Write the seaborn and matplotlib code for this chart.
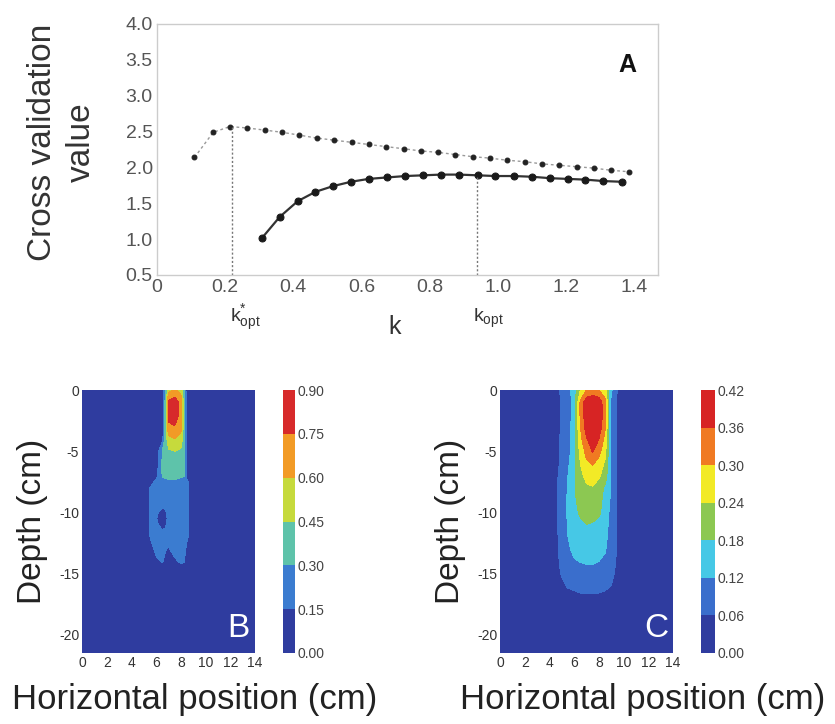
import numpy as np
import pandas as pd
import matplotlib
matplotlib.use("Agg")
import matplotlib.pyplot as plt
from matplotlib.colors import ListedColormap, BoundaryNorm
import seaborn as sns

# ---------------- data: panel A ----------------
k_upper = [0.110, 0.165, 0.214, 0.265, 0.317, 0.367, 0.418, 0.468, 0.520, 0.571,
           0.621, 0.673, 0.724, 0.774, 0.825, 0.875, 0.926, 0.976, 1.028, 1.079,
           1.129, 1.180, 1.232, 1.282, 1.333, 1.384]
cv_upper = [2.14, 2.49, 2.57, 2.55, 2.52, 2.49, 2.45, 2.41, 2.38, 2.35,
            2.32, 2.29, 2.26, 2.23, 2.21, 2.18, 2.15, 2.13, 2.10, 2.08,
            2.05, 2.03, 2.01, 1.99, 1.96, 1.94]
k_lower = [0.307, 0.360, 0.413, 0.465, 0.517, 0.569, 0.621, 0.674, 0.729, 0.781,
           0.833, 0.886, 0.941, 0.993, 1.047, 1.100, 1.153, 1.205, 1.257, 1.310, 1.363]
cv_lower = [1.01, 1.31, 1.53, 1.66, 1.74, 1.80, 1.84, 1.86, 1.88, 1.89,
            1.90, 1.90, 1.89, 1.88, 1.88, 1.87, 1.85, 1.84, 1.83, 1.81, 1.80]
k_opt = [0.22, 0.94]
k_opt_cv = [2.57, 1.90]
xticks_A = [0, 0.2, 0.4, 0.6, 0.8, 1.0, 1.2, 1.4]
yticks_A = [0.5, 1.0, 1.5, 2.0, 2.5, 3.0, 3.5, 4.0]

# ---------------- data: panel B (values read on a coarse grid) ----------------
xB = [0, 5, 5.5, 6, 6.5, 6.75, 7, 7.5, 8, 8.25, 8.5, 9, 14]
yB = [0, -1, -2, -3, -4, -5, -6, -7, -7.5, -8, -9, -10, -10.5, -11, -12, -13, -14, -15, -21.5]
zB = [
    [0.02, 0.02, 0.03, 0.04, 0.06, 0.25, 0.55, 0.62, 0.55, 0.30, 0.07, 0.03, 0.02],
    [0.02, 0.02, 0.03, 0.04, 0.05, 0.35, 0.78, 0.84, 0.70, 0.40, 0.08, 0.03, 0.02],
    [0.02, 0.02, 0.03, 0.04, 0.05, 0.35, 0.80, 0.86, 0.70, 0.40, 0.08, 0.03, 0.02],
    [0.02, 0.02, 0.03, 0.04, 0.05, 0.35, 0.72, 0.74, 0.65, 0.38, 0.08, 0.03, 0.02],
    [0.02, 0.02, 0.03, 0.04, 0.10, 0.36, 0.55, 0.60, 0.55, 0.36, 0.08, 0.03, 0.02],
    [0.02, 0.02, 0.03, 0.05, 0.30, 0.37, 0.43, 0.45, 0.42, 0.33, 0.08, 0.03, 0.02],
    [0.02, 0.02, 0.03, 0.06, 0.32, 0.36, 0.38, 0.40, 0.38, 0.33, 0.09, 0.03, 0.02],
    [0.02, 0.02, 0.04, 0.10, 0.31, 0.33, 0.33, 0.34, 0.32, 0.31, 0.10, 0.03, 0.02],
    [0.02, 0.03, 0.10, 0.18, 0.25, 0.27, 0.28, 0.28, 0.26, 0.24, 0.17, 0.04, 0.02],
    [0.02, 0.04, 0.15, 0.20, 0.22, 0.23, 0.24, 0.24, 0.23, 0.22, 0.18, 0.05, 0.02],
    [0.02, 0.04, 0.16, 0.21, 0.22, 0.23, 0.23, 0.24, 0.23, 0.22, 0.18, 0.05, 0.02],
    [0.02, 0.04, 0.16, 0.17, 0.11, 0.13, 0.22, 0.23, 0.22, 0.21, 0.18, 0.05, 0.02],
    [0.02, 0.04, 0.16, 0.16, 0.07, 0.08, 0.20, 0.22, 0.22, 0.21, 0.17, 0.05, 0.02],
    [0.02, 0.04, 0.16, 0.17, 0.11, 0.13, 0.21, 0.22, 0.22, 0.21, 0.17, 0.05, 0.02],
    [0.02, 0.04, 0.15, 0.19, 0.20, 0.20, 0.21, 0.22, 0.22, 0.21, 0.17, 0.05, 0.02],
    [0.02, 0.03, 0.10, 0.18, 0.19, 0.16, 0.14, 0.19, 0.20, 0.19, 0.12, 0.04, 0.02],
    [0.02, 0.02, 0.04, 0.13, 0.16, 0.12, 0.08, 0.13, 0.17, 0.16, 0.07, 0.03, 0.02],
    [0.02, 0.02, 0.03, 0.05, 0.06, 0.04, 0.03, 0.04, 0.06, 0.05, 0.03, 0.02, 0.02],
    [0.02, 0.02, 0.02, 0.02, 0.02, 0.02, 0.02, 0.02, 0.02, 0.02, 0.02, 0.02, 0.02],
]
levelsB = [0.00, 0.15, 0.30, 0.45, 0.60, 0.75, 0.90]
colorsB = ['#2f3c9f', '#3b7cd0', '#5ec3aa', '#c6da3c', '#f29b26', '#d72a2b']

# ---------------- data: panel C ----------------
xC = [0, 4.5, 5, 5.5, 6, 6.5, 7, 7.5, 8, 8.5, 9, 9.5, 10, 14]
yC = [0, -1, -2, -3, -4, -5, -6, -7, -8, -9, -10, -11, -12, -13, -14, -15, -16, -17, -21.5]
zC = [
    [0.02, 0.04, 0.07, 0.10, 0.15, 0.24, 0.30, 0.31, 0.30, 0.26, 0.13, 0.06, 0.03, 0.02],
    [0.02, 0.04, 0.065, 0.09, 0.14, 0.31, 0.40, 0.42, 0.40, 0.32, 0.10, 0.05, 0.03, 0.02],
    [0.02, 0.04, 0.065, 0.09, 0.14, 0.31, 0.40, 0.42, 0.41, 0.32, 0.10, 0.05, 0.03, 0.02],
    [0.02, 0.04, 0.065, 0.10, 0.15, 0.30, 0.39, 0.42, 0.40, 0.31, 0.10, 0.055, 0.03, 0.02],
    [0.02, 0.04, 0.07, 0.10, 0.15, 0.28, 0.355, 0.39, 0.36, 0.28, 0.11, 0.055, 0.03, 0.02],
    [0.02, 0.04, 0.07, 0.10, 0.15, 0.26, 0.32, 0.365, 0.32, 0.26, 0.11, 0.055, 0.03, 0.02],
    [0.02, 0.045, 0.07, 0.11, 0.16, 0.24, 0.29, 0.305, 0.28, 0.23, 0.11, 0.055, 0.03, 0.02],
    [0.02, 0.05, 0.075, 0.12, 0.17, 0.22, 0.26, 0.27, 0.25, 0.21, 0.11, 0.055, 0.03, 0.02],
    [0.02, 0.05, 0.08, 0.125, 0.175, 0.20, 0.23, 0.235, 0.21, 0.17, 0.11, 0.055, 0.03, 0.02],
    [0.02, 0.05, 0.08, 0.13, 0.17, 0.20, 0.21, 0.22, 0.20, 0.16, 0.11, 0.055, 0.03, 0.02],
    [0.02, 0.05, 0.08, 0.13, 0.16, 0.19, 0.20, 0.20, 0.19, 0.155, 0.10, 0.055, 0.03, 0.02],
    [0.02, 0.05, 0.08, 0.125, 0.15, 0.165, 0.18, 0.175, 0.165, 0.14, 0.10, 0.055, 0.03, 0.02],
    [0.02, 0.05, 0.075, 0.12, 0.145, 0.155, 0.16, 0.16, 0.155, 0.135, 0.095, 0.055, 0.03, 0.02],
    [0.02, 0.05, 0.075, 0.11, 0.135, 0.145, 0.15, 0.15, 0.145, 0.125, 0.09, 0.055, 0.03, 0.02],
    [0.02, 0.045, 0.07, 0.10, 0.115, 0.122, 0.125, 0.125, 0.12, 0.11, 0.085, 0.05, 0.03, 0.02],
    [0.02, 0.04, 0.065, 0.085, 0.095, 0.10, 0.105, 0.105, 0.10, 0.095, 0.075, 0.045, 0.03, 0.02],
    [0.02, 0.03, 0.05, 0.065, 0.07, 0.075, 0.075, 0.075, 0.075, 0.07, 0.06, 0.04, 0.03, 0.02],
    [0.02, 0.02, 0.03, 0.04, 0.045, 0.05, 0.05, 0.05, 0.05, 0.045, 0.04, 0.03, 0.02, 0.02],
    [0.02, 0.02, 0.02, 0.02, 0.02, 0.02, 0.02, 0.02, 0.02, 0.02, 0.02, 0.02, 0.02, 0.02],
]
levelsC = [0.00, 0.06, 0.12, 0.18, 0.24, 0.30, 0.36, 0.42]
colorsC = ['#2f3c9f', '#3a6ecc', '#46c8e6', '#8cc852', '#f2ea26', '#f07a22', '#d72424']

xticks_map = [0, 2, 4, 6, 8, 10, 12, 14]
yticks_map = [0, -5, -10, -15, -20]

# ---------------- style ----------------
sns.set_theme(style="white")
plt.rcParams['font.family'] = ['Liberation Sans', 'DejaVu Sans']
plt.rcParams['axes.unicode_minus'] = False
plt.rcParams['mathtext.fontset'] = 'custom'
plt.rcParams['mathtext.rm'] = 'Liberation Sans'
plt.rcParams['mathtext.it'] = 'Liberation Sans'

W, H = 835, 724
fig = plt.figure(figsize=(W / 100, H / 100), dpi=100)


def px_axes(l, t, r, b):
    return fig.add_axes([l / W, 1 - b / H, (r - l) / W, (b - t) / H])


# ---------------- panel A ----------------
axA = px_axes(157, 24, 658, 275)
dfU = pd.DataFrame({'k': k_upper, 'cv': cv_upper})
dfL = pd.DataFrame({'k': k_lower, 'cv': cv_lower})
sns.lineplot(data=dfU, x='k', y='cv', ax=axA, color='#9a9a9a', lw=1.0,
             linestyle=(0, (2, 2)), marker='o', markersize=3.5,
             markerfacecolor='#222222', markeredgecolor='#222222')
sns.lineplot(data=dfL, x='k', y='cv', ax=axA, color='#333333', lw=1.6,
             marker='o', markersize=5, markerfacecolor='#1a1a1a',
             markeredgecolor='#1a1a1a')
for kx, cy in zip(k_opt, k_opt_cv):
    axA.vlines(kx, 0.5, cy, colors='#777777', linestyles=(0, (1.5, 1.5)), lw=1.0)
axA.set_xlim(0, 1.47)
axA.set_ylim(0.5, 4.0)
axA.set_xticks(xticks_A)
axA.set_xticklabels(['0', '0.2', '0.4', '0.6', '0.8', '1.0', '1.2', '1.4'])
axA.set_yticks(yticks_A)
axA.set_yticklabels([f'{v:.1f}' for v in yticks_A])
axA.tick_params(axis='both', length=0, labelsize=14, labelcolor='#555555', pad=3)
axA.set_xlabel('')
axA.set_ylabel('')
for s in axA.spines.values():
    s.set_color('#cccccc')
    s.set_linewidth(1.0)
axA.text(0.938, 0.835, 'A', transform=axA.transAxes, fontsize=18,
         fontweight='bold', ha='center', va='center', color='#111111')
fig.text(62 / W, 1 - 142 / H, 'Cross validation\nvalue', rotation=90,
         ha='center', va='center', fontsize=24, color='#333333',
         linespacing=1.3)
fig.text(395 / W, 1 - 327 / H, 'k', ha='center', va='center', fontsize=18,
         color='#333333')
fig.text(245 / W, 1 - 318 / H, r'k$^{*}_{\mathrm{opt}}$', ha='center',
         va='center', fontsize=14, color='#333333')
fig.text(488 / W, 1 - 318 / H, r'k$_{\mathrm{opt}}$', ha='center',
         va='center', fontsize=14, color='#333333')


# ---------------- panels B and C ----------------
def draw_map(ax, cax, x, y, z, levels, colors, letter):
    cmap = ListedColormap(colors)
    norm = BoundaryNorm(levels, cmap.N)
    X, Y = np.meshgrid(np.array(x), np.array(y))
    cs = ax.contourf(X, Y, np.array(z), levels=levels, cmap=cmap, norm=norm,
                     extend='neither')
    ax.set_xlim(0, 14)
    ax.set_ylim(-21.5, 0)
    ax.set_xticks(xticks_map)
    ax.set_yticks(yticks_map)
    ax.set_yticklabels([str(v) for v in yticks_map])
    ax.tick_params(axis='both', length=0, labelsize=10, labelcolor='#333333',
                   pad=2)
    for s in ax.spines.values():
        s.set_visible(False)
    ax.text(0.905, 0.095, letter, transform=ax.transAxes, fontsize=24,
            color='white', ha='center', va='center')
    cb = fig.colorbar(cs, cax=cax, ticks=levels)
    cb.ax.set_yticklabels([f'{v:.2f}' for v in levels])
    cb.ax.tick_params(length=0, labelsize=10, labelcolor='#444444', pad=2)
    cb.outline.set_visible(False)
    ax.set_ylabel('Depth (cm)', fontsize=24, color='#222222', labelpad=8)


axB = px_axes(82, 390, 255, 653)
caxB = px_axes(283, 390, 295, 653)
draw_map(axB, caxB, xB, yB, zB, levelsB, colorsB, 'B')
axC = px_axes(500, 390, 673, 653)
caxC = px_axes(701, 390, 715, 653)
draw_map(axC, caxC, xC, yC, zC, levelsC, colorsC, 'C')

fig.text(195 / W, 1 - 700 / H, 'Horizontal position (cm)', ha='center',
         va='center', fontsize=25, color='#222222')
fig.text(643 / W, 1 - 700 / H, 'Horizontal position (cm)', ha='center',
         va='center', fontsize=25, color='#222222')

fig.savefig('out.png', dpi=100)
